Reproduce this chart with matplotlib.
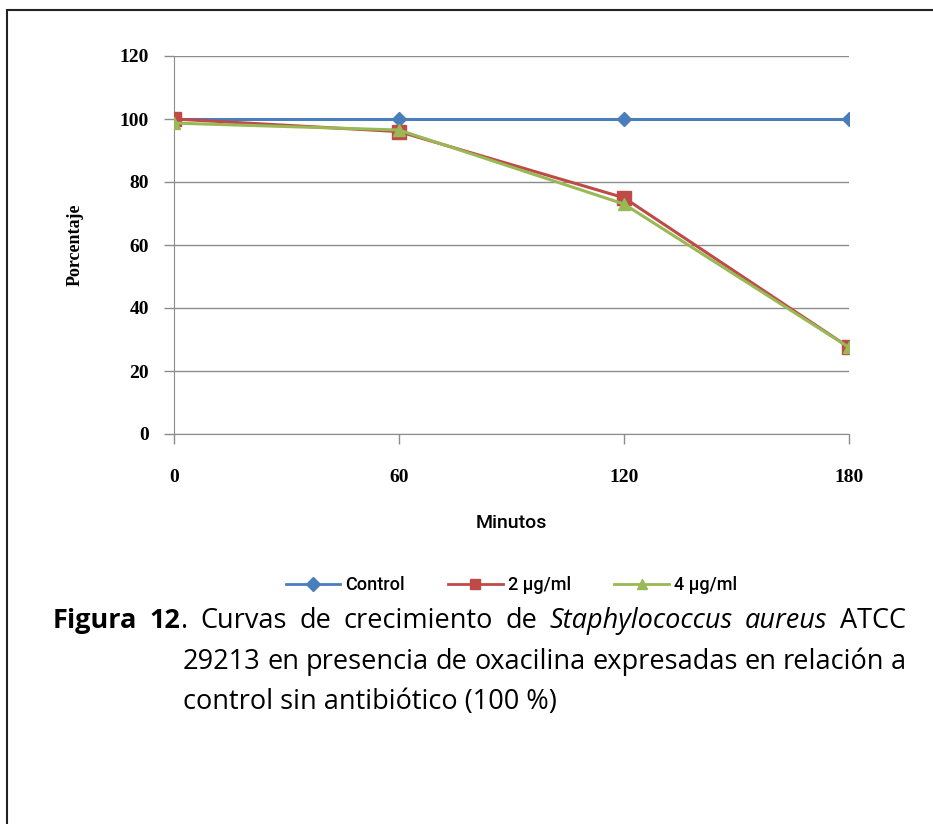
import matplotlib
matplotlib.use("Agg")
import matplotlib.pyplot as plt
from matplotlib.patches import Rectangle

minutos = [0, 60, 120, 180]
control = [100, 100, 100, 100]
dos_ug = [100, 96, 75, 27.5]
cuatro_ug = [98.7, 96.5, 73, 27.5]
yticks = [0, 20, 40, 60, 80, 100, 120]

fig = plt.figure(figsize=(9.33, 8.24), dpi=100)
ax = fig.add_axes([174/933, 1-434/824, (849-174)/933, (434-56)/824])

serif = ['Liberation Serif', 'DejaVu Serif']
narrow = ['Roboto', 'DejaVu Sans']
cap = ['Open Sans', 'DejaVu Sans']

ax.plot(minutos, control, color='#4a7ebb', lw=2.2, marker='D', ms=7,
        label='Control', zorder=3)
ax.plot(minutos, dos_ug, color='#be4b48', lw=2.2, marker='s', ms=10,
        label='2 µg/ml', zorder=4)
ax.plot(minutos, cuatro_ug, color='#98b954', lw=2.2, marker='^', ms=9,
        label='4 µg/ml', zorder=5)

ax.set_xlim(0, 180)
ax.set_ylim(0, 120)
tfont = {'family': serif, 'weight': 'bold', 'size': 14}
ax.set_xticks(minutos)
ax.set_xticklabels([str(m) for m in minutos], fontdict=tfont)
ax.set_yticks(yticks)
ax.set_yticklabels([str(v) for v in yticks], fontdict=tfont)
ax.grid(axis='y', color='#8c8c8c', lw=1)
ax.set_axisbelow(True)
for s in ['top', 'right']:
    ax.spines[s].set_visible(False)
for s in ['left', 'bottom']:
    ax.spines[s].set_color('#8c8c8c')
ax.tick_params(axis='both', colors='#8c8c8c', length=7, width=1,
               labelcolor='black')
ax.tick_params(axis='y', pad=11)
ax.tick_params(axis='x', pad=18)
ax.set_xlabel('Minutos', family=narrow, fontweight='medium', fontsize=14,
              labelpad=20)
ax.set_ylabel('Porcentaje', family=serif, fontweight='bold', fontsize=13,
              labelpad=26)

leg = ax.legend(loc='center', bbox_to_anchor=(0.5, 1-(585-56)/378),
                ncol=3, frameon=False, handlelength=3.0, columnspacing=2.4,
                handletextpad=0.3, prop={'family': narrow, 'size': 13,
                                         'weight': 'medium'})
for h in leg.legend_handles:
    h.set_markersize(7)
    h.set_linewidth(2)

# borde de la pagina
fig.patches.append(Rectangle((7/933, -0.1), 2, 1.1-10/824, transform=fig.transFigure,
                             fill=False, ec='#222222', lw=1.5))

# pie de figura, lineas justificadas
fig.canvas.draw()
r = fig.canvas.get_renderer()
cs = 19.5


def justify(words, x_start, x_end, ypix):
    objs = []
    for w, wt, st in words:
        objs.append(fig.text(0, 1-ypix/824, w, family=cap, fontsize=cs,
                             fontweight=wt, style=st, va='center'))
    anchos = [o.get_window_extent(r).width for o in objs]
    return objs, anchos


linea1 = [('Figura', 'bold', 'normal'), ('12', 'bold', 'normal'),
          ('.', 'normal', 'normal'), ('Curvas', 'normal', 'normal'),
          ('de', 'normal', 'normal'), ('crecimiento', 'normal', 'normal'),
          ('de', 'normal', 'normal'), ('Staphylococcus', 'normal', 'italic'),
          ('aureus', 'normal', 'italic'), ('ATCC', 'normal', 'normal')]
objs, anchos = justify(linea1, 53, 906, 621)
gap = (906 - 53 - sum(anchos)) / (len(objs) - 2)
x = 53
for i, o in enumerate(objs):
    o.set_x(x/933)
    x += anchos[i]
    if i != 1:
        x += gap

linea2 = [(w, 'normal', 'normal') for w in
          '29213 en presencia de oxacilina expresadas en relación a'.split()]
objs, anchos = justify(linea2, 183, 906, 662)
gap = (906 - 183 - sum(anchos)) / (len(objs) - 1)
x = 183
for o, w in zip(objs, anchos):
    o.set_x(x/933)
    x += w + gap

fig.text(183/933, 1-702/824, 'control sin antibiótico (100 %)',
         family=cap, fontsize=cs, va='center')

fig.savefig('out.png', dpi=100)
